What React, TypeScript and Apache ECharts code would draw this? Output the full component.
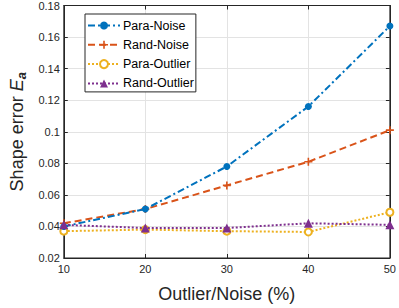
import React, { useEffect, useRef } from "react";
import * as echarts from "echarts";

const categories = ["10", "20", "30", "40", "50"];
const xValues = [10, 20, 30, 40, 50];
const paraNoise = [0.040, 0.051, 0.078, 0.116, 0.167];
const randNoise = [0.042, 0.051, 0.066, 0.081, 0.101];
const paraOutlier = [0.037, 0.038, 0.037, 0.0365, 0.049];
const randOutlier = [0.041, 0.039, 0.039, 0.042, 0.041];
const seriesNames = ["Para-Noise", "Rand-Noise", "Para-Outlier", "Rand-Outlier"];

const PLUS = "path://M4,0 L6,0 L6,4 L10,4 L10,6 L6,6 L6,10 L4,10 L4,6 L0,6 L0,4 L4,4 Z";

export default function App() {
  const ref = useRef<HTMLDivElement>(null);
  useEffect(() => {
    const chart = echarts.init(ref.current!, null, { renderer: "svg" });
    const pair = (arr: number[]) => xValues.map((x, i) => [x, arr[i]]);
    const font = "Liberation Sans, Arial, Helvetica, sans-serif";
    const axisCol = "#262626";
    chart.setOption({
      animation: false,
      grid: { left: 55, right: 7, top: 5, bottom: 41, show: true, borderColor: axisCol, borderWidth: 1, backgroundColor: "#fff" },
      legend: {
        orient: "vertical",
        left: 85,
        top: 14,
        itemWidth: 32,
        itemHeight: 10,
        itemGap: 6.3,
        padding: [5, 2, 2, 2],
        borderColor: axisCol,
        borderWidth: 1,
        backgroundColor: "#fff",
        textStyle: { fontFamily: font, fontSize: 12.5, color: "#000", padding: [0, 0, 0, -2] },
        data: seriesNames,
      },
      xAxis: [
        {
          type: "value",
          min: 10,
          max: 50,
          interval: 10,
          name: "Outlier/Noise (%)",
          nameLocation: "middle",
          nameGap: 27,
          nameTextStyle: { fontFamily: font, fontSize: 18, color: axisCol },
          axisLine: { show: true, lineStyle: { color: axisCol } },
          axisTick: { inside: true, length: 4, lineStyle: { color: axisCol } },
          axisLabel: { fontFamily: font, fontSize: 11, color: axisCol, margin: 5, formatter: (v: number) => categories[xValues.indexOf(v)] ?? String(v) },
          splitLine: { show: true, lineStyle: { color: "#e3e3e3" } },
        },
        {
          type: "value",
          position: "top",
          min: 10,
          max: 50,
          interval: 10,
          axisLine: { show: true, lineStyle: { color: axisCol } },
          axisTick: { inside: true, length: 4, lineStyle: { color: axisCol } },
          axisLabel: { show: false },
          splitLine: { show: false },
        },
      ],
      yAxis: [
        {
          type: "value",
          min: 0.02,
          max: 0.18,
          interval: 0.02,
          name: "{n|Shape error }{e|E}{s|a}",
          nameLocation: "middle",
          nameGap: 30,
          nameTextStyle: {
            rich: {
              n: { fontFamily: font, fontSize: 18, color: axisCol },
              e: { fontFamily: font, fontSize: 18, fontStyle: "italic", color: axisCol },
              s: { fontFamily: font, fontSize: 13, fontStyle: "italic", fontWeight: "bold", color: axisCol, verticalAlign: "bottom", padding: [8, 0, 0, 0] },
            },
          },
          axisLine: { show: true, lineStyle: { color: axisCol } },
          axisTick: { inside: true, length: 4, lineStyle: { color: axisCol } },
          axisLabel: { fontFamily: font, fontSize: 11, color: axisCol, margin: 4, formatter: (v: number) => String(parseFloat(v.toFixed(2))) },
          splitLine: { show: true, lineStyle: { color: "#e3e3e3" } },
        },
        {
          type: "value",
          position: "right",
          min: 0.02,
          max: 0.18,
          interval: 0.02,
          axisLine: { show: true, lineStyle: { color: axisCol } },
          axisTick: { inside: true, length: 4, lineStyle: { color: axisCol } },
          axisLabel: { show: false },
          splitLine: { show: false },
        },
      ],
      series: [
        {
          name: seriesNames[0],
          type: "line",
          data: pair(paraNoise),
          symbol: "circle",
          symbolSize: 7,
          itemStyle: { color: "#0072BD" },
          lineStyle: { color: "#0072BD", width: 2, type: [7, 3, 2, 3] },
          z: 4,
        },
        {
          name: seriesNames[1],
          type: "line",
          data: pair(randNoise),
          symbol: PLUS,
          symbolSize: 8,
          itemStyle: { color: "#D95319" },
          lineStyle: { color: "#D95319", width: 2, type: [7, 4] },
          z: 3,
        },
        {
          name: seriesNames[2],
          type: "line",
          data: pair(paraOutlier),
          symbol: "circle",
          symbolSize: 7,
          itemStyle: { color: "#fff", borderColor: "#EDB120", borderWidth: 2 },
          lineStyle: { color: "#EDB120", width: 2, type: [2, 2] },
          z: 2,
        },
        {
          name: seriesNames[3],
          type: "line",
          data: pair(randOutlier),
          symbol: "triangle",
          symbolSize: 9,
          itemStyle: { color: "#7E2F8E" },
          lineStyle: { color: "#7E2F8E", width: 2, type: [2, 2] },
          z: 5,
        },
      ],
    });
    return () => chart.dispose();
  }, []);
  return <div ref={ref} style={{ width: 399, height: 308, position: "absolute", left: 0, top: 0 }} />;
}
